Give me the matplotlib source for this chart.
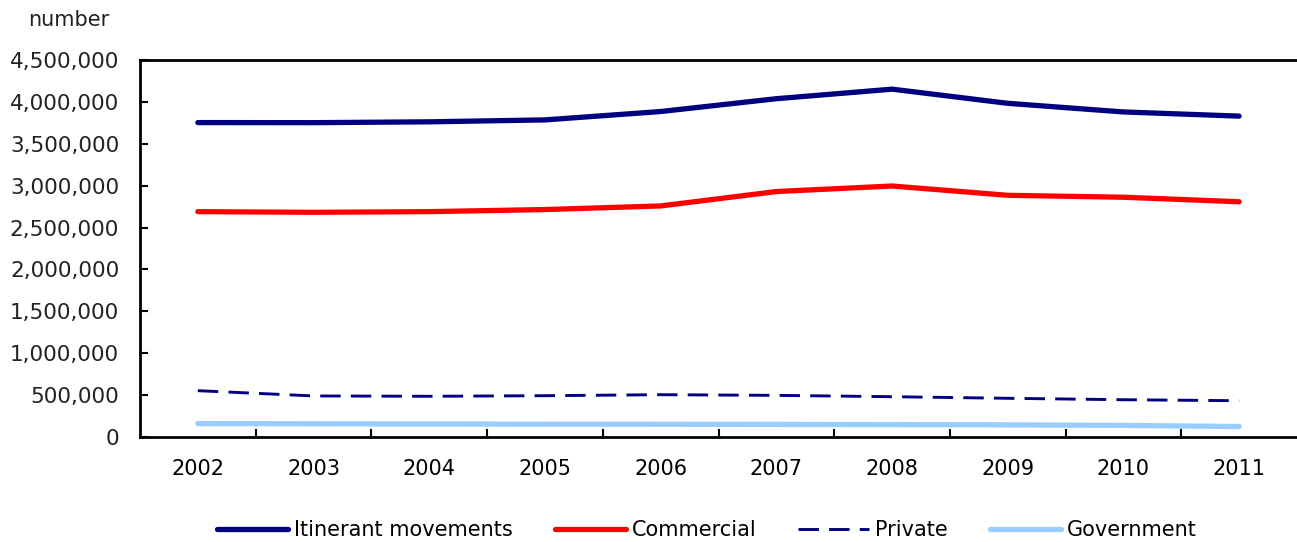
import matplotlib.pyplot as plt
from matplotlib.ticker import FuncFormatter
import numpy as np

years = ['2002', '2003', '2004', '2005', '2006', '2007', '2008', '2009', '2010', '2011']
itinerant = [3753000, 3752000, 3762000, 3785000, 3885000, 4038000, 4152000, 3983000, 3880000, 3830000]
commercial = [2690000, 2682000, 2690000, 2715000, 2758000, 2930000, 2996000, 2885000, 2862000, 2808000]
private = [553000, 490000, 486000, 493000, 505000, 497000, 481000, 462000, 445000, 433000]
government = [160000, 158000, 155000, 153000, 152000, 150000, 148000, 145000, 138000, 125000]

plt.rcParams['font.family'] = 'DejaVu Sans'
fig = plt.figure(figsize=(12.97, 5.42), dpi=100)
ax = fig.add_axes([140/1297, 1-437/542, 1-140/1297, 377/542])

x = np.arange(len(years))
ax.plot(x, itinerant, color='#000080', lw=3.8, solid_capstyle='round', label='Itinerant movements')
ax.plot(x, commercial, color='#FF0000', lw=3.8, solid_capstyle='round', label='Commercial')
ax.plot(x, private, color='#000080', lw=2.1, dashes=(7, 3.5), label='Private')
ax.plot(x, government, color='#99CCFF', lw=3.8, solid_capstyle='round', label='Government')

ax.set_xlim(-0.5, 9.5)
ax.set_ylim(0, 4500000)
ax.set_yticks(np.arange(0, 4500001, 500000))
ax.yaxis.set_major_formatter(FuncFormatter(lambda v, p: f'{int(v):,}'))
ax.set_xticks(np.arange(0.5, 9.5, 1))
ax.set_xticklabels([])
ax.set_xticks(x, minor=True)
ax.set_xticklabels(years, minor=True)
ax.tick_params(axis='x', which='minor', length=0, pad=16, labelsize=15)
ax.tick_params(axis='x', which='major', direction='in', length=6, width=1.5)
ax.tick_params(axis='y', direction='in', length=6, width=1.5, labelsize=15.5, pad=15)
for t in ax.get_yticklabels():
    t.set_color('#222222')
for s in ['left', 'bottom', 'top']:
    ax.spines[s].set_linewidth(2)
ax.spines['right'].set_visible(False)

fig.text(69/1297, 1-20/542, 'number', fontsize=15, ha='center', va='center', color='#222222')

fig.legend(loc='center', bbox_to_anchor=(707/1297, 1-530/542), ncol=4, frameon=False,
           fontsize=15, handlelength=3.4, columnspacing=2.0, handletextpad=0.3)

fig.savefig('out.png', dpi=100)
